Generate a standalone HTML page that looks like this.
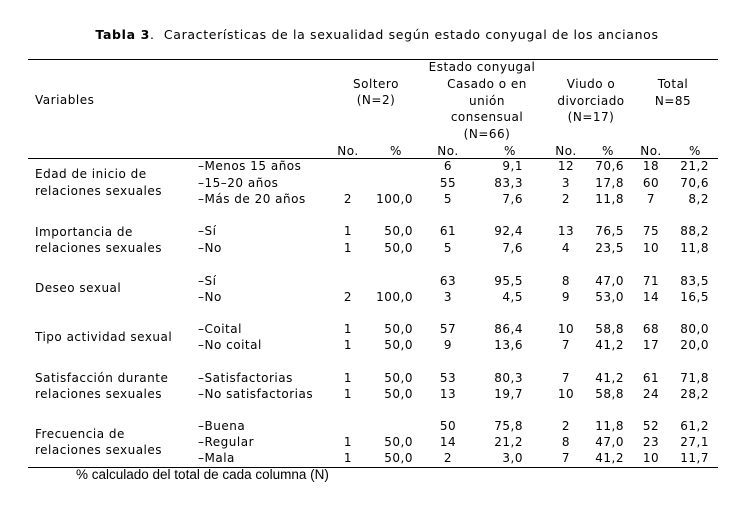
<!DOCTYPE html>
<html><head><meta charset="utf-8"><style>
body{margin:0;background:#fff;}
#p{position:relative;width:752px;height:513px;overflow:hidden;font-family:"DejaVu Sans","Liberation Sans",sans-serif;font-size:12px;letter-spacing:0.5px;color:#000;}
#p div{position:absolute;line-height:16px;white-space:nowrap;}
.c{transform:translateX(-50%);text-align:center;}
.r{transform:translateX(-100%);}
.l{height:0;border-top:1px solid #000;left:28px;width:690px;}
</style></head><body><div id="p">
<div class="c" style="left:377px;top:27px;font-size:12.5px;letter-spacing:0.65px"><b>Tabla 3</b>.&nbsp; Características de la sexualidad según estado conyugal de los ancianos</div>
<div class="l" style="top:59px"></div>
<div class="l" style="top:158px"></div>
<div class="l" style="top:467px"></div>
<div style="left:35px;top:92px">Variables</div>
<div class="c" style="left:376px;top:76px">Soltero<br>(N=2)</div>
<div class="c" style="left:482px;top:59px">Estado conyugal</div>
<div class="c" style="left:487px;top:76px;line-height:16.7px">Casado o en<br>unión<br>consensual<br>(N=66)</div>
<div class="c" style="left:591px;top:76px;line-height:16.7px">Viudo o<br>divorciado<br>(N=17)</div>
<div class="c" style="left:673px;top:76px;line-height:16.7px">Total<br>N=85</div>
<div class="c" style="left:348px;top:143px">No.</div><div class="c" style="left:396px;top:143px">%</div>
<div class="c" style="left:448px;top:143px">No.</div><div class="c" style="left:510px;top:143px">%</div>
<div class="c" style="left:566px;top:143px">No.</div><div class="c" style="left:608px;top:143px">%</div>
<div class="c" style="left:651px;top:143px">No.</div><div class="c" style="left:695px;top:143px">%</div>

<div style="left:35px;top:166px">Edad de inicio de</div><div style="left:35px;top:183px">relaciones sexuales</div>
<div style="left:35px;top:224px">Importancia de</div><div style="left:35px;top:240px">relaciones sexuales</div>
<div style="left:35px;top:280px">Deseo sexual</div>
<div style="left:35px;top:329px">Tipo actividad sexual</div>
<div style="left:35px;top:370px">Satisfacción durante</div><div style="left:35px;top:386px">relaciones sexuales</div>
<div style="left:35px;top:426px">Frecuencia de</div><div style="left:35px;top:442px">relaciones sexuales</div>

<div style="left:198px;top:158px">–Menos 15 años</div>
<div style="left:198px;top:175px">–15–20 años</div>
<div style="left:198px;top:191px">–Más de 20 años</div>
<div style="left:198px;top:223px">–Sí</div>
<div style="left:198px;top:240px">–No</div>
<div style="left:198px;top:273px">–Sí</div>
<div style="left:198px;top:289px">–No</div>
<div style="left:198px;top:321px">–Coital</div>
<div style="left:198px;top:337px">–No coital</div>
<div style="left:198px;top:370px">–Satisfactorias</div>
<div style="left:198px;top:386px">–No satisfactorias</div>
<div style="left:198px;top:418px">–Buena</div>
<div style="left:198px;top:434px">–Regular</div>
<div style="left:198px;top:450px">–Mala</div>

<div class="c" style="left:448px;top:158px">6</div><div class="r" style="left:523px;top:158px">9,1</div><div class="c" style="left:566px;top:158px">12</div><div class="r" style="left:624px;top:158px">70,6</div><div class="c" style="left:651px;top:158px">18</div><div class="r" style="left:709px;top:158px">21,2</div>
<div class="c" style="left:448px;top:175px">55</div><div class="r" style="left:523px;top:175px">83,3</div><div class="c" style="left:566px;top:175px">3</div><div class="r" style="left:624px;top:175px">17,8</div><div class="c" style="left:651px;top:175px">60</div><div class="r" style="left:709px;top:175px">70,6</div>
<div class="c" style="left:348px;top:191px">2</div><div class="r" style="left:413px;top:191px">100,0</div><div class="c" style="left:448px;top:191px">5</div><div class="r" style="left:523px;top:191px">7,6</div><div class="c" style="left:566px;top:191px">2</div><div class="r" style="left:624px;top:191px">11,8</div><div class="c" style="left:651px;top:191px">7</div><div class="r" style="left:709px;top:191px">8,2</div>

<div class="c" style="left:348px;top:223px">1</div><div class="r" style="left:413px;top:223px">50,0</div><div class="c" style="left:448px;top:223px">61</div><div class="r" style="left:523px;top:223px">92,4</div><div class="c" style="left:566px;top:223px">13</div><div class="r" style="left:624px;top:223px">76,5</div><div class="c" style="left:651px;top:223px">75</div><div class="r" style="left:709px;top:223px">88,2</div>
<div class="c" style="left:348px;top:240px">1</div><div class="r" style="left:413px;top:240px">50,0</div><div class="c" style="left:448px;top:240px">5</div><div class="r" style="left:523px;top:240px">7,6</div><div class="c" style="left:566px;top:240px">4</div><div class="r" style="left:624px;top:240px">23,5</div><div class="c" style="left:651px;top:240px">10</div><div class="r" style="left:709px;top:240px">11,8</div>

<div class="c" style="left:448px;top:273px">63</div><div class="r" style="left:523px;top:273px">95,5</div><div class="c" style="left:566px;top:273px">8</div><div class="r" style="left:624px;top:273px">47,0</div><div class="c" style="left:651px;top:273px">71</div><div class="r" style="left:709px;top:273px">83,5</div>
<div class="c" style="left:348px;top:289px">2</div><div class="r" style="left:413px;top:289px">100,0</div><div class="c" style="left:448px;top:289px">3</div><div class="r" style="left:523px;top:289px">4,5</div><div class="c" style="left:566px;top:289px">9</div><div class="r" style="left:624px;top:289px">53,0</div><div class="c" style="left:651px;top:289px">14</div><div class="r" style="left:709px;top:289px">16,5</div>

<div class="c" style="left:348px;top:321px">1</div><div class="r" style="left:413px;top:321px">50,0</div><div class="c" style="left:448px;top:321px">57</div><div class="r" style="left:523px;top:321px">86,4</div><div class="c" style="left:566px;top:321px">10</div><div class="r" style="left:624px;top:321px">58,8</div><div class="c" style="left:651px;top:321px">68</div><div class="r" style="left:709px;top:321px">80,0</div>
<div class="c" style="left:348px;top:337px">1</div><div class="r" style="left:413px;top:337px">50,0</div><div class="c" style="left:448px;top:337px">9</div><div class="r" style="left:523px;top:337px">13,6</div><div class="c" style="left:566px;top:337px">7</div><div class="r" style="left:624px;top:337px">41,2</div><div class="c" style="left:651px;top:337px">17</div><div class="r" style="left:709px;top:337px">20,0</div>

<div class="c" style="left:348px;top:370px">1</div><div class="r" style="left:413px;top:370px">50,0</div><div class="c" style="left:448px;top:370px">53</div><div class="r" style="left:523px;top:370px">80,3</div><div class="c" style="left:566px;top:370px">7</div><div class="r" style="left:624px;top:370px">41,2</div><div class="c" style="left:651px;top:370px">61</div><div class="r" style="left:709px;top:370px">71,8</div>
<div class="c" style="left:348px;top:386px">1</div><div class="r" style="left:413px;top:386px">50,0</div><div class="c" style="left:448px;top:386px">13</div><div class="r" style="left:523px;top:386px">19,7</div><div class="c" style="left:566px;top:386px">10</div><div class="r" style="left:624px;top:386px">58,8</div><div class="c" style="left:651px;top:386px">24</div><div class="r" style="left:709px;top:386px">28,2</div>

<div class="c" style="left:448px;top:418px">50</div><div class="r" style="left:523px;top:418px">75,8</div><div class="c" style="left:566px;top:418px">2</div><div class="r" style="left:624px;top:418px">11,8</div><div class="c" style="left:651px;top:418px">52</div><div class="r" style="left:709px;top:418px">61,2</div>
<div class="c" style="left:348px;top:434px">1</div><div class="r" style="left:413px;top:434px">50,0</div><div class="c" style="left:448px;top:434px">14</div><div class="r" style="left:523px;top:434px">21,2</div><div class="c" style="left:566px;top:434px">8</div><div class="r" style="left:624px;top:434px">47,0</div><div class="c" style="left:651px;top:434px">23</div><div class="r" style="left:709px;top:434px">27,1</div>
<div class="c" style="left:348px;top:450px">1</div><div class="r" style="left:413px;top:450px">50,0</div><div class="c" style="left:448px;top:450px">2</div><div class="r" style="left:523px;top:450px">3,0</div><div class="c" style="left:566px;top:450px">7</div><div class="r" style="left:624px;top:450px">41,2</div><div class="c" style="left:651px;top:450px">10</div><div class="r" style="left:709px;top:450px">11,7</div>

<div style="left:76px;top:467px;font-family:'Liberation Sans',sans-serif;font-size:13.5px;letter-spacing:0">% calculado del total de cada columna (N)</div>
</div></body></html>
